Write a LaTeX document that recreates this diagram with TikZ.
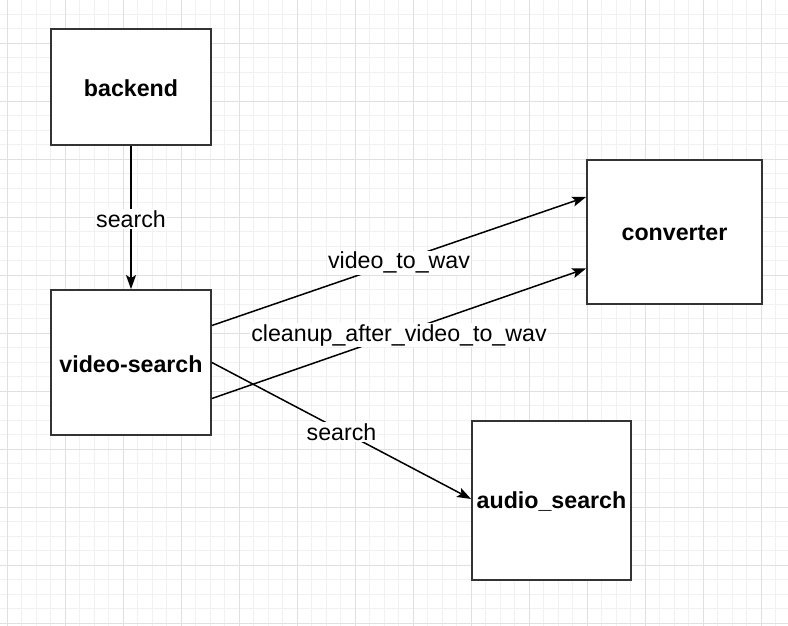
\documentclass[tikz,border=0pt]{standalone}
\usepackage{fontspec}
\setmainfont{Liberation Sans}
\usetikzlibrary{arrows.meta,calc}
\definecolor{gridminor}{HTML}{F1F1F1}
\definecolor{gridmajor}{HTML}{E0E0E0}
\definecolor{boxline}{HTML}{333333}
\tikzset{
  box/.style={draw=boxline, line width=1.8pt, fill=white, inner sep=0pt,
    font=\fontsize{23.2}{27}\selectfont\bfseries},
  boxtext/.style={font=\fontsize{23.2}{27}\selectfont\bfseries, inner sep=0pt},
  conn/.style={draw=black, line width=1.5pt, -{Stealth[length=14pt,width=10pt,inset=3pt]}},
  lbl/.style={fill=white, inner sep=1.5pt, yshift=-1.5pt, font=\fontsize{23.2}{27}\selectfont}
}
\begin{document}
\begin{tikzpicture}[x=1pt,y=-1pt]
\useasboundingbox (0,0) rectangle (788,626);
\fill[white] (0,0) rectangle (788,626);
% minor grid
\foreach \i in {0,...,55} {
  \pgfmathsetmacro{\gx}{7.3-14.5+14.5*\i}
  \draw[gridminor, line width=0.8pt] (\gx,0) -- (\gx,626);
}
\foreach \i in {0,...,45} {
  \pgfmathsetmacro{\gy}{43.3-58+14.5*\i}
  \draw[gridminor, line width=0.8pt] (0,\gy) -- (788,\gy);
}
% major grid
\foreach \i in {0,...,13} {
  \pgfmathsetmacro{\gx}{7.3+58*\i}
  \draw[gridmajor, line width=1pt] (\gx,0) -- (\gx,626);
}
\foreach \i in {0,...,11} {
  \pgfmathsetmacro{\gy}{43.3-58+58*\i}
  \draw[gridmajor, line width=1pt] (0,\gy) -- (788,\gy);
}
% boxes
\node[box, minimum width=160pt, minimum height=116pt] (be) at (131,87) {};
\node[box, minimum width=160pt, minimum height=145pt] (vs) at (131,362.5) {};
\node[box, minimum width=175pt, minimum height=144pt] (cv) at (674.5,232) {};
\node[box, minimum width=159pt, minimum height=159pt] (as) at (551.5,500.5) {};
\node[boxtext] (bet) at ($(be.center)+(0,1.5)$) {backend};
\node[boxtext] (vst) at ($(vs.center)+(0,1.5)$) {video-search};
\node[boxtext] (cvt) at ($(cv.center)+(0,1.5)$) {converter};
\node[boxtext] (ast) at ($(as.center)+(0,1.5)$) {audio\_search};
% connectors
\draw[conn] (be.south) -- node[lbl] {search} (vs.north);
\draw[conn] ($(vs.east)+(0,-37)$) -- node[lbl] {video\_to\_wav} ($(cv.west)+(0,-35)$);
\draw[conn] ($(vs.east)+(0,36)$) -- node[lbl] {cleanup\_after\_video\_to\_wav} ($(cv.west)+(0,36.5)$);
\draw[conn] (vs.east) -- node[lbl] {search} ($(as.west)+(0,-1.5)$);
\end{tikzpicture}
\end{document}
